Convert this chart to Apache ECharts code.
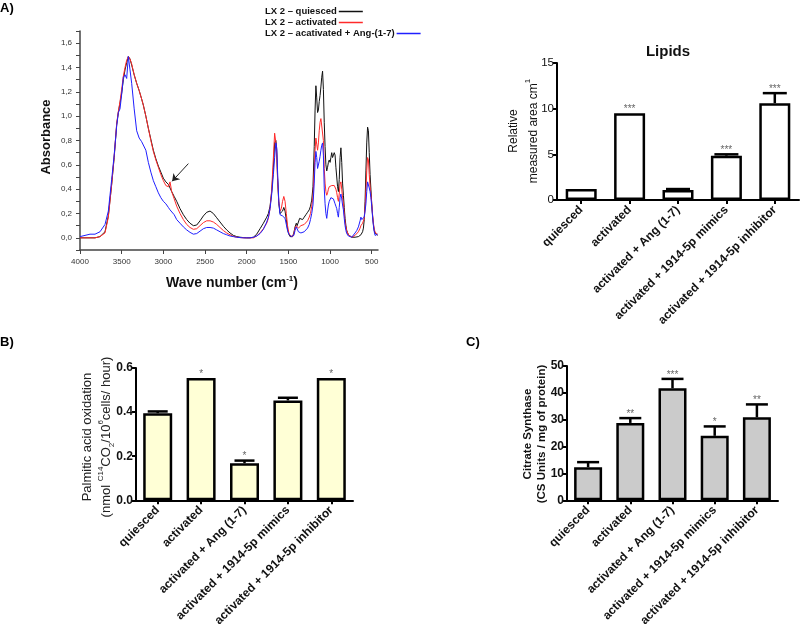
<!DOCTYPE html>
<html>
<head>
<meta charset="utf-8">
<script src="https://cdn.jsdelivr.net/npm/echarts@6/dist/echarts.min.js"></script>
<style>
html, body { margin: 0; padding: 0; background: #fff; }
#main { width: 800px; height: 629px; }
</style>
</head>
<body>
<div id="main"></div>
<script>
// ---- panel A, FTIR spectra (wave number cm-1 / absorbance) ----
var waveNumbers = [
  4000, 3940, 3880, 3820, 3760, 3700,
  3660, 3620, 3590, 3560, 3540, 3520, 3500, 3480, 3460, 3440,
  3420, 3400, 3380, 3350, 3320, 3290, 3260, 3240, 3210, 3180,
  3150, 3120, 3090, 3060, 3030, 3000, 2970, 2940, 2920, 2900,
  2870, 2840, 2800, 2760, 2720, 2680, 2640, 2600, 2560, 2520,
  2480, 2440, 2400, 2360, 2320, 2280, 2240, 2200, 2160, 2120,
  2080, 2040, 2000, 1960, 1920, 1880, 1840, 1800, 1760, 1740,
  1720, 1700, 1680, 1665, 1650, 1640, 1630, 1615, 1600, 1585,
  1570, 1555, 1540, 1525, 1510, 1495, 1480, 1465, 1450, 1435,
  1420, 1405, 1395, 1380, 1365, 1350, 1330, 1310, 1290, 1270,
  1250, 1235, 1220, 1205, 1190, 1180, 1170, 1160, 1150, 1140,
  1130, 1120, 1110, 1100, 1090, 1080, 1070, 1060, 1050, 1040,
  1030, 1020, 1010, 1000, 990, 980, 970, 960, 950, 940,
  930, 920, 910, 900, 890, 880, 870, 860, 850, 840,
  830, 820, 810, 800, 780, 760, 740, 720, 700, 680,
  660, 640, 630, 620, 610, 600, 590, 580, 570, 560,
  550, 540, 530, 520, 510, 500, 490, 480, 470, 460,
  450, 440, 430
];
var absQuiesced = [
  0, 0, 0, 0, 0.01, 0.05,
  0.18, 0.44, 0.66, 0.93, 1.03, 1.11, 1.19, 1.30, 1.38, 1.44,
  1.49, 1.47, 1.42, 1.34, 1.27, 1.21, 1.14, 1.09, 1.00, 0.90,
  0.81, 0.72, 0.65, 0.59, 0.54, 0.49, 0.46, 0.44, 0.43, 0.38,
  0.34, 0.30, 0.24, 0.19, 0.15, 0.12, 0.10, 0.105, 0.14, 0.18,
  0.21, 0.22, 0.20, 0.165, 0.13, 0.095, 0.065, 0.04, 0.02, 0.01,
  0.005, 0.002, 0, 0, 0.005, 0.03, 0.075, 0.12, 0.17, 0.20,
  0.26, 0.38, 0.58, 0.78, 0.80, 0.72, 0.50, 0.28, 0.20, 0.19,
  0.22, 0.25, 0.22, 0.15, 0.07, 0.03, 0.01, 0.005, 0.01, 0.04,
  0.09, 0.12, 0.10, 0.13, 0.16, 0.15, 0.15, 0.17, 0.19, 0.21,
  0.23, 0.26, 0.31, 0.42, 0.75, 1.05, 1.25, 1.15, 1.03, 1.05,
  1.12, 1.17, 1.24, 1.32, 1.37, 1.22, 0.95, 0.75, 0.60, 0.55,
  0.58, 0.62, 0.64, 0.62, 0.66, 0.70, 0.66, 0.65, 0.70, 0.68,
  0.58, 0.50, 0.42, 0.38, 0.48, 0.66, 0.74, 0.62, 0.45, 0.35,
  0.25, 0.16, 0.10, 0.06, 0.025, 0.01, 0.005, 0.005, 0.005, 0.01,
  0.01, 0.02, 0.025, 0.035, 0.05, 0.08, 0.15, 0.30, 0.55, 0.78,
  0.91, 0.88, 0.70, 0.52, 0.40, 0.28, 0.18, 0.11, 0.06, 0.04,
  0.03, 0.025, 0.02
];
var absActivated = [
  0, 0, 0, 0, 0.01, 0.04,
  0.17, 0.44, 0.67, 0.94, 1.04, 1.12, 1.22, 1.33, 1.40, 1.46,
  1.49, 1.47, 1.43, 1.34, 1.27, 1.21, 1.14, 1.09, 1.00, 0.90,
  0.80, 0.71, 0.64, 0.58, 0.52, 0.47, 0.43, 0.42, 0.46, 0.38,
  0.32, 0.26, 0.20, 0.15, 0.11, 0.085, 0.07, 0.075, 0.10, 0.125,
  0.14, 0.14, 0.13, 0.11, 0.085, 0.06, 0.04, 0.025, 0.012, 0.005,
  0.002, 0, 0, 0, 0, 0.015, 0.04, 0.075, 0.12, 0.16,
  0.24, 0.40, 0.66, 0.86, 0.78, 0.68, 0.48, 0.30, 0.22, 0.24,
  0.30, 0.34, 0.30, 0.20, 0.10, 0.04, 0.02, 0.01, 0.01, 0.03,
  0.08, 0.10, 0.09, 0.08, 0.09, 0.10, 0.105, 0.11, 0.12, 0.14,
  0.17, 0.20, 0.26, 0.34, 0.55, 0.72, 0.82, 0.77, 0.72, 0.78,
  0.88, 0.95, 0.98, 0.99, 0.97, 0.80, 0.57, 0.45, 0.38, 0.35,
  0.37, 0.40, 0.42, 0.41, 0.42, 0.43, 0.42, 0.42, 0.43, 0.42,
  0.40, 0.37, 0.33, 0.30, 0.36, 0.44, 0.46, 0.40, 0.33, 0.28,
  0.20, 0.13, 0.09, 0.06, 0.025, 0.01, 0.005, 0.01, 0.02, 0.03,
  0.05, 0.08, 0.10, 0.11, 0.12, 0.13, 0.16, 0.25, 0.38, 0.55,
  0.66, 0.64, 0.52, 0.42, 0.36, 0.28, 0.19, 0.12, 0.07, 0.05,
  0.04, 0.03, 0.03
];
var absAng = [
  0.01, 0.02, 0.03, 0.03, 0.05, 0.11,
  0.22, 0.48, 0.68, 0.92, 1.03, 1.06, 1.18, 1.32, 1.34, 1.31,
  1.49, 1.38, 1.27, 1.06, 0.88, 0.82, 0.79, 0.78, 0.72, 0.62,
  0.54, 0.47, 0.42, 0.37, 0.33, 0.30, 0.28, 0.25, 0.23, 0.22,
  0.19, 0.15, 0.12, 0.09, 0.065, 0.045, 0.03, 0.035, 0.055, 0.075,
  0.085, 0.085, 0.08, 0.065, 0.05, 0.035, 0.025, 0.015, 0.01, 0.005,
  0.002, 0, 0, 0, 0.005, 0.015, 0.035, 0.07, 0.13, 0.17,
  0.24, 0.36, 0.52, 0.66, 0.78, 0.74, 0.55, 0.30, 0.19, 0.18,
  0.18, 0.19, 0.16, 0.11, 0.06, 0.03, 0.02, 0.01, 0.005, 0.02,
  0.06, 0.09, 0.08, 0.05, 0.045, 0.04, 0.045, 0.05, 0.06, 0.08,
  0.11, 0.15, 0.20, 0.27, 0.45, 0.62, 0.71, 0.66, 0.57, 0.58,
  0.63, 0.67, 0.72, 0.76, 0.78, 0.68, 0.41, 0.28, 0.20, 0.16,
  0.22, 0.27, 0.30, 0.31, 0.33, 0.34, 0.33, 0.32, 0.31, 0.28,
  0.26, 0.24, 0.20, 0.17, 0.25, 0.33, 0.36, 0.32, 0.27, 0.23,
  0.16, 0.10, 0.06, 0.035, 0.015, 0.005, 0.005, 0.02, 0.04, 0.06,
  0.09, 0.14, 0.17, 0.15, 0.14, 0.15, 0.17, 0.22, 0.28, 0.38,
  0.46, 0.46, 0.41, 0.38, 0.33, 0.26, 0.17, 0.10, 0.05, 0.02,
  0.01, 0.02, 0.03
];
var waveTicks = [4000, 3500, 3000, 2500, 2000, 1500, 1000, 500];
var absLabelTicks = [0, 0.2, 0.4, 0.6, 0.8, 1.0, 1.2, 1.4, 1.6];
var absMinorTicks = [-0.1, 0, 0.1, 0.2, 0.3, 0.4, 0.5, 0.6, 0.7, 0.8, 0.9, 1.0, 1.1, 1.2, 1.3, 1.4, 1.5, 1.6, 1.7];
var spectrumNames = ['LX 2 – quiesced', 'LX 2 – activated', 'LX 2 – acativated + Ang-(1-7)'];
var spectrumColors = ['#111', '#ff2a2a', '#1f1fff'];

// ---- bar panels ----
var groups = ['quiesced', 'activated', 'activated + Ang (1-7)', 'activated + 1914-5p mimics', 'activated + 1914-5p inhibitor'];
var lipidMean = [1.2, 9.5, 1.1, 4.85, 10.6];
var lipidErr = [0, 0, 0.1, 0.15, 1.1];
var lipidStars = ['', '***', '', '***', '***'];
var palmiticMean = [0.395, 0.555, 0.168, 0.453, 0.555];
var palmiticErr = [0.008, 0, 0.012, 0.012, 0];
var palmiticStars = ['', '*', '*', '', '*'];
var csMean = [12.3, 28.8, 41.7, 24.0, 30.9];
var csErr = [1.9, 1.8, 3.5, 3.5, 4.8];
var csStars = ['', '**', '***', '*', '**'];

var FONT = 'Liberation Sans, Arial, sans-serif';

function zip(xs, ys) {
  var out = [];
  for (var i = 0; i < xs.length; i++) out.push([xs[i], ys[i]]);
  return out;
}

// error bar (upper half only) + significance stars
function errorSeries(ax, mean, err, stars, capW) {
  return {
    type: 'custom',
    xAxisIndex: ax, yAxisIndex: ax,
    z: 5, silent: true,
    encode: { x: 0, y: 1 },
    data: mean.map(function (v, i) { return [i, v, err[i]]; }),
    renderItem: function (params, api) {
      var i = api.value(0), v = api.value(1), e = api.value(2);
      var base = api.coord([i, v]);
      var top = api.coord([i, v + e]);
      var kids = [];
      if (e > 0) {
        kids.push({ type: 'line', shape: { x1: base[0], y1: base[1], x2: top[0], y2: top[1] },
          style: { stroke: '#000', lineWidth: 2.5 } });
        kids.push({ type: 'line', shape: { x1: top[0] - capW / 2, y1: top[1], x2: top[0] + capW / 2, y2: top[1] },
          style: { stroke: '#000', lineWidth: 2.5 } });
      }
      var s = stars[params.dataIndex];
      if (s) {
        kids.push({ type: 'text', x: top[0], y: top[1] - 4,
          style: { text: s, fill: '#666', fontSize: 10, fontFamily: FONT, align: 'center', verticalAlign: 'middle' } });
      }
      return { type: 'group', children: kids };
    }
  };
}

function barSeries(ax, mean, fill, width) {
  return {
    type: 'bar', xAxisIndex: ax, yAxisIndex: ax,
    barWidth: width, data: mean, silent: true,
    itemStyle: { color: fill, borderColor: '#000', borderWidth: 2.5 }
  };
}

function catAxis(grid) {
  return {
    type: 'category', gridIndex: grid, data: groups,
    axisLine: { show: true, lineStyle: { color: '#000', width: 2 } },
    axisTick: { show: true, alignWithLabel: true, length: 4, lineStyle: { color: '#000', width: 2 } },
    axisLabel: { interval: 0, rotate: 45, margin: 8, fontSize: 12, fontWeight: 'bold', color: '#111', fontFamily: FONT },
    splitLine: { show: false }
  };
}

function valAxis(grid, max, step, fmt, size, weight) {
  return {
    type: 'value', gridIndex: grid, min: 0, max: max, interval: step,
    axisLine: { show: true, lineStyle: { color: '#000', width: 2 } },
    axisTick: { show: true, length: 4, lineStyle: { color: '#000', width: 2 } },
    axisLabel: { margin: 3, fontSize: size, fontWeight: weight, color: '#111', fontFamily: FONT, formatter: fmt },
    splitLine: { show: false }
  };
}

// one legend block per spectrum so each text starts at the same left edge
function spectrumLegend(i) {
  return {
    orient: 'horizontal', left: 265, top: 6 + i * 11, align: 'right',
    icon: 'rect', itemWidth: 24, itemHeight: 1.5, itemGap: 0, padding: 0,
    textStyle: { fontSize: 9.5, fontWeight: 'bold', color: '#111', lineHeight: 11, padding: [0, -3, 0, 0] },
    data: [spectrumNames[i]]
  };
}

var chart = echarts.init(document.getElementById('main'));

chart.setOption({
  animation: false,
  backgroundColor: '#fff',
  textStyle: { fontFamily: FONT },
  grid: [
    { left: 80, top: 31, width: 298, height: 219 },
    { left: 557, top: 63, width: 242, height: 137 },
    { left: 136, top: 368, width: 217, height: 138 },
    { left: 567, top: 366, width: 211, height: 137 }
  ],
  legend: [spectrumLegend(0), spectrumLegend(1), spectrumLegend(2)],
  xAxis: [
    {
      type: 'value', gridIndex: 0, inverse: true, min: 425, max: 4000,
      axisLine: { onZero: false, lineStyle: { color: '#444', width: 1.5 } },
      axisTick: { customValues: waveTicks, length: 4, lineStyle: { color: '#444', width: 1 } },
      axisLabel: { customValues: waveTicks, fontSize: 8, color: '#333', margin: 8,
        formatter: function (v) { return String(v); } },
      splitLine: { show: false }
    },
    catAxis(1), catAxis(2), catAxis(3)
  ],
  yAxis: [
    {
      type: 'value', gridIndex: 0, min: -0.1, max: 1.7,
      axisLine: { show: true, onZero: false, lineStyle: { color: '#444', width: 1.5 } },
      axisTick: { show: true, customValues: absMinorTicks, length: 4, lineStyle: { color: '#444', width: 1 } },
      axisLabel: {
        customValues: absLabelTicks, fontSize: 8, color: '#333', margin: 8,
        formatter: function (v) { return v.toFixed(1).replace('.', ','); }
      },
      splitLine: { show: false }
    },
    valAxis(1, 15, 5, '{value}', 11.5, 'normal'),
    valAxis(2, 0.6, 0.2, function (v) { return v.toFixed(1); }, 12, 'bold'),
    valAxis(3, 50, 10, '{value}', 12, 'bold')
  ],
  series: [
    {
      name: spectrumNames[0], type: 'line', xAxisIndex: 0, yAxisIndex: 0,
      data: zip(waveNumbers, absQuiesced), symbol: 'none', silent: true,
      lineStyle: { color: spectrumColors[0], width: 1 }, itemStyle: { color: spectrumColors[0] }
    },
    {
      name: spectrumNames[1], type: 'line', xAxisIndex: 0, yAxisIndex: 0,
      data: zip(waveNumbers, absActivated), symbol: 'none', silent: true,
      lineStyle: { color: spectrumColors[1], width: 1 }, itemStyle: { color: spectrumColors[1] },
      markLine: {
        silent: true, symbol: ['none', 'arrow'], symbolSize: 7,
        lineStyle: { color: '#222', width: 1, type: 'solid' },
        label: { show: false },
        data: [[{ coord: [2700, 0.61] }, { coord: [2895, 0.465] }]]
      }
    },
    {
      name: spectrumNames[2], type: 'line', xAxisIndex: 0, yAxisIndex: 0,
      data: zip(waveNumbers, absAng), symbol: 'none', silent: true,
      lineStyle: { color: spectrumColors[2], width: 1 }, itemStyle: { color: spectrumColors[2] }
    },
    barSeries(1, lipidMean, '#fff', 31),
    errorSeries(1, lipidMean, lipidErr, lipidStars, 24),
    barSeries(2, palmiticMean, '#ffffd6', 29),
    errorSeries(2, palmiticMean, palmiticErr, palmiticStars, 20),
    barSeries(3, csMean, '#cbcbcb', 28),
    errorSeries(3, csMean, csErr, csStars, 22)
  ],
  graphic: [
    { type: 'text', left: 0, top: 2, style: { text: 'A)', fontSize: 13, fontWeight: 'bold', fill: '#000', fontFamily: FONT } },
    { type: 'text', left: 0, top: 336, style: { text: 'B)', fontSize: 13, fontWeight: 'bold', fill: '#000', fontFamily: FONT } },
    { type: 'text', left: 466, top: 336, style: { text: 'C)', fontSize: 13, fontWeight: 'bold', fill: '#000', fontFamily: FONT } },
    { type: 'text', x: 46, y: 137, rotation: Math.PI / 2,
      style: { text: 'Absorbance', fontSize: 13, fontWeight: 'bold', fill: '#111', fontFamily: FONT, align: 'center', verticalAlign: 'middle' } },
    { type: 'text', x: 232, y: 283,
      style: {
        text: 'Wave number (cm{sup|-1})', fontSize: 14, fontWeight: 'bold', fill: '#111', fontFamily: FONT,
        align: 'center', verticalAlign: 'middle',
        rich: { sup: { fontSize: 8, fontWeight: 'bold', fill: '#111', verticalAlign: 'top', lineHeight: 16 } }
      } },
    { type: 'text', x: 668, y: 52,
      style: { text: 'Lipids', fontSize: 15, fontWeight: 'bold', fill: '#111', fontFamily: FONT, align: 'center', verticalAlign: 'middle' } },
    { type: 'text', x: 524, y: 131, rotation: Math.PI / 2,
      style: {
        text: 'Relative\nmeasured area cm{sup|1}', fontSize: 12, fill: '#111', fontFamily: FONT, lineHeight: 20,
        align: 'center', verticalAlign: 'middle',
        rich: { sup: { fontSize: 8, fill: '#111', verticalAlign: 'top', lineHeight: 20 } }
      } },
    { type: 'text', x: 97, y: 437, rotation: Math.PI / 2,
      style: {
        text: 'Palmitic acid oxidation\n(nmol {sup|C14}CO{sub|2}/10{sup|6}cells/ hour)', fontSize: 13, fill: '#222', fontFamily: FONT, lineHeight: 19,
        align: 'center', verticalAlign: 'middle',
        rich: {
          sup: { fontSize: 8, fill: '#222', verticalAlign: 'top', lineHeight: 19 },
          sub: { fontSize: 8, fill: '#222', verticalAlign: 'bottom', lineHeight: 19 }
        }
      } },
    { type: 'text', x: 535, y: 434, rotation: Math.PI / 2,
      style: {
        text: 'Citrate Synthase\n(CS Units / mg of protein)', fontSize: 11.5, fontWeight: 'bold', fill: '#111', fontFamily: FONT, lineHeight: 14,
        align: 'center', verticalAlign: 'middle'
      } }
  ]
});
</script>
</body>
</html>
